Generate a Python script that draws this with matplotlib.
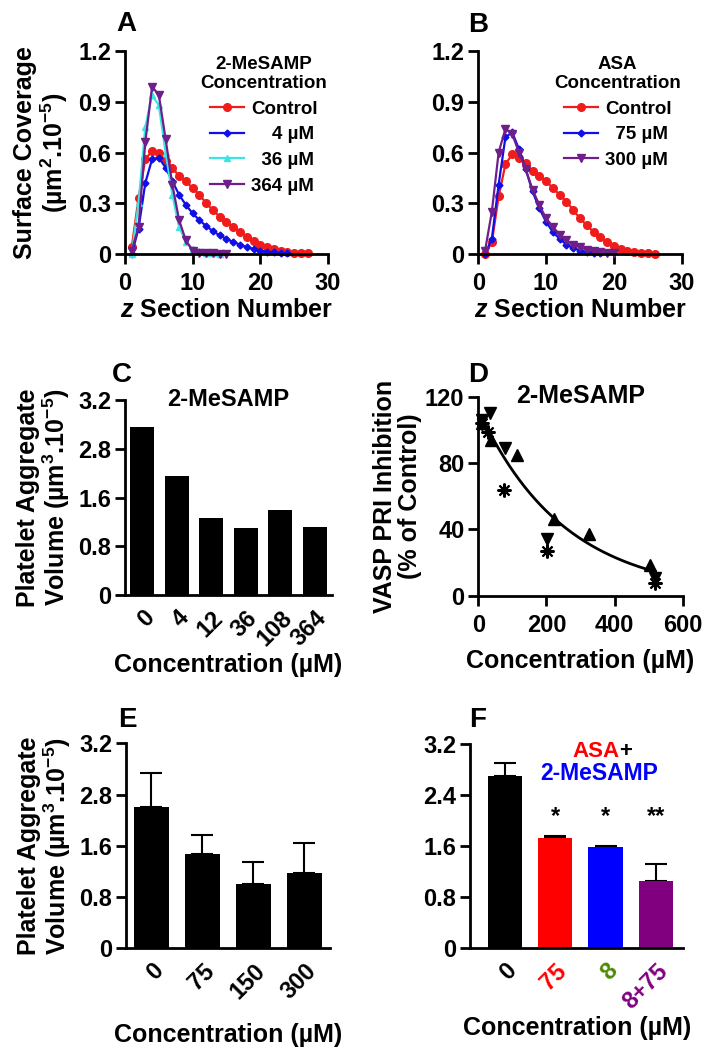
import numpy as np
import matplotlib
matplotlib.use("Agg")
import matplotlib.pyplot as plt

plt.rcParams['font.family'] = ['Liberation Sans', 'DejaVu Sans']
plt.rcParams['font.weight'] = 'bold'
plt.rcParams['axes.labelweight'] = 'bold'
plt.rcParams['axes.titleweight'] = 'bold'
plt.rcParams['mathtext.fontset'] = 'custom'
plt.rcParams['mathtext.rm'] = 'Liberation Sans:bold'
plt.rcParams['mathtext.bf'] = 'Liberation Sans:bold'
plt.rcParams['mathtext.it'] = 'Liberation Sans:italic:bold'

RED = '#f01c1c'
BLUE = '#1010e6'
CYAN = '#3fe3e3'
PURPLE = '#6e1f8a'
GREEN = '#4a8a00'

# ---- panel A: 2-MeSAMP z profiles ----
a_ctrl = [0.04, 0.33, 0.56, 0.61, 0.60, 0.55, 0.51, 0.46, 0.43, 0.39, 0.35, 0.30, 0.26,
          0.22, 0.19, 0.16, 0.13, 0.10, 0.075, 0.055, 0.04, 0.03, 0.02, 0.013, 0.008, 0.005, 0.003]
a_4 = [0.0, 0.15, 0.42, 0.56, 0.57, 0.51, 0.43, 0.35, 0.29, 0.24, 0.20, 0.165, 0.135, 0.11,
       0.09, 0.07, 0.055, 0.04, 0.03, 0.02, 0.014, 0.009, 0.005, 0.003]
a_36 = [0.0, 0.30, 0.75, 0.94, 0.88, 0.60, 0.35, 0.16, 0.07, 0.03, 0.015, 0.008, 0.004, 0.002]
a_364 = [0.02, 0.16, 0.66, 0.99, 0.94, 0.68, 0.41, 0.20, 0.08, 0.02, 0.006, 0.004, 0.003, 0.002, 0.001]

# ---- panel B: ASA z profiles ----
b_ctrl = [0.0, 0.07, 0.34, 0.53, 0.59, 0.57, 0.54, 0.49, 0.46, 0.43, 0.39, 0.35, 0.31,
          0.26, 0.21, 0.17, 0.13, 0.10, 0.07, 0.05, 0.03, 0.02, 0.01, 0.007, 0.004, 0.002]
b_75 = [0.0, 0.09, 0.41, 0.69, 0.72, 0.62, 0.50, 0.37, 0.27, 0.19, 0.13, 0.09, 0.055,
        0.035, 0.02, 0.012, 0.006, 0.003]
b_300 = [0.02, 0.25, 0.60, 0.74, 0.71, 0.60, 0.50, 0.38, 0.29, 0.21, 0.16, 0.115, 0.08,
         0.055, 0.04, 0.025, 0.015, 0.01, 0.006, 0.004]

# ---- panel C ----
c_labels = ['0', '4', '12', '36', '108', '364']
c_vals = [2.76, 1.96, 1.27, 1.10, 1.40, 1.12]

# ---- panel D ----
d_down_x = [10, 34, 78, 203, 520]
d_down_y = [106, 110, 89, 34, 10.5]
d_up_x = [10, 36, 113, 221, 324, 505]
d_up_y = [104, 94, 85, 46, 37, 18.5]
d_ast_x = [12, 29, 74, 203, 520]
d_ast_y = [104, 99, 64, 27, 7.5]

# ---- panel E ----
e_labels = ['0', '75', '150', '300']
e_vals = [2.20, 1.47, 1.01, 1.18]
e_err = [0.53, 0.30, 0.33, 0.47]

# ---- panel F ----
f_labels = ['0', '75', '8', '8+75']
f_vals = [2.70, 1.72, 1.59, 1.06]
f_err = [0.20, 0.04, 0.02, 0.26]
f_colors = ['black', '#ff0000', '#0000ff', '#800080']
f_label_colors = ['black', '#ff0000', GREEN, '#800080']
f_stars = ['', '*', '*', '**']

fig = plt.figure(figsize=(7.09, 10.5), dpi=100)


def style(ax):
    for s in ['top', 'right']:
        ax.spines[s].set_visible(False)
    for s in ['left', 'bottom']:
        ax.spines[s].set_linewidth(2)
    ax.tick_params(width=2, length=7, labelsize=17)
    ax.tick_params(axis='y', pad=3)
    ax.tick_params(axis='x', pad=6)


def letter(ax, txt, x, y):
    fig.text(x / 709, 1 - y / 1050, txt, fontsize=20, ha='center', va='center')


YL = 'Surface Coverage\n(µm$^{2}$.10$^{-5}$)'
VL = 'Platelet Aggregate\nVolume (µm$^{3}$.10$^{-5}$)'


def profile(ax, series, title):
    for vals, color, marker, ms, lab in series:
        z = np.arange(1, len(vals) + 1)
        ax.plot(z, vals, color=color, marker=marker, ms=ms, lw=1.6, label=lab, clip_on=False)
    ax.set_xlim(0, 30)
    ax.set_ylim(0, 1.2)
    ax.set_xticks([0, 10, 20, 30])
    ax.set_yticks([0, 0.3, 0.6, 0.9, 1.2])
    ax.set_yticklabels(['0', '0.3', '0.6', '0.9', '1.2'])
    ax.set_xlabel(r'$z$ Section Number', fontsize=18, labelpad=2)
    leg = ax.legend(title=title, loc='upper right', bbox_to_anchor=(1.08, 1.06), frameon=False,
                    fontsize=13.5, title_fontproperties={'weight': 'bold', 'size': 13.5},
                    handlelength=1.8, labelspacing=0.45, handletextpad=0.4, alignment='center')
    leg.get_title().set_multialignment('center')
    style(ax)


axA = fig.add_axes([0.1763, 0.7581, 0.2863, 0.1933])
profile(axA, [(a_ctrl, RED, 'o', 5.5, 'Control'), (a_4, BLUE, 'D', 3.5, '    4 µM'),
              (a_36, CYAN, '^', 5, '  36 µM'), (a_364, PURPLE, 'v', 6, '364 µM')],
        '2-MeSAMP\nConcentration')
axA.set_ylabel(YL, fontsize=18, linespacing=1.05, labelpad=6)
letter(axA, 'A', 126, 24)

axB = fig.add_axes([0.6746, 0.7581, 0.2869, 0.1933])
profile(axB, [(b_ctrl, RED, 'o', 5.5, 'Control'), (b_75, BLUE, 'D', 3.5, '  75 µM'),
              (b_300, PURPLE, 'v', 6, '300 µM')],
        'ASA\nConcentration')
letter(axB, 'B', 478, 25)


def bars(ax, labels, vals, colors='black', err=None, width=0.7):
    x = np.arange(len(vals))
    ax.bar(x, vals, width=width, color=colors, edgecolor='none', zorder=2)
    if err is not None:
        ax.errorbar(x, vals, yerr=[np.zeros(len(err)), err], fmt='none', ecolor='black',
                    elinewidth=1.5, capsize=8, capthick=1.5, zorder=1)
    ax.set_xticks(x)
    ax.set_xticklabels(labels, rotation=45, ha='right', rotation_mode='anchor')
    ax.set_ylim(0, 3.2)
    ax.set_yticks([0, 0.8, 1.6, 2.4, 3.2])
    style(ax)
    ax.tick_params(axis='x', length=0, pad=8)


# ---- C ----
axC = fig.add_axes([0.1763, 0.4333, 0.292, 0.1857])
bars(axC, c_labels, c_vals, width=0.7)
axC.set_xlim(-0.5, 5.5)
axC.set_yticklabels(['0', '0.8', '1.6', '2.8', '3.2'])
axC.set_ylabel(VL, fontsize=18, linespacing=1.05, labelpad=4)
axC.set_xlabel('Concentration (µM)', fontsize=18, labelpad=2)
axC.set_title('2-MeSAMP', fontsize=17, pad=0, y=0.97)
letter(axC, 'C', 122, 375)

# ---- D ----
axD = fig.add_axes([0.6746, 0.4327, 0.2883, 0.1895])
allx = np.array(d_down_x + d_up_x + d_ast_x, dtype=float)
ally = np.array(d_down_y + d_up_y + d_ast_y, dtype=float)
k, b0 = np.polyfit(allx, np.log(ally), 1, w=ally)
xf = np.linspace(min(allx), max(allx), 200)
axD.plot(xf, np.exp(b0 + k * xf), color='black', lw=2)
axD.plot(d_down_x, d_down_y, 'v', color='black', ms=9, clip_on=False)
axD.plot(d_up_x, d_up_y, '^', color='black', ms=8, clip_on=False)
axD.plot(d_ast_x, d_ast_y, marker=(8, 2, 0), ls='none', color='black', ms=10, mew=1.5,
         clip_on=False)
axD.set_xlim(0, 600)
axD.set_ylim(0, 120)
axD.set_xticks([0, 200, 400, 600])
axD.set_yticks([0, 40, 80, 120])
style(axD)
axD.set_ylabel('VASP PRI Inhibition\n(% of Control)', fontsize=18, linespacing=1.05, labelpad=2)
axD.set_xlabel('Concentration (µM)', fontsize=18, labelpad=9)
axD.set_title('2-MeSAMP', fontsize=18, pad=0, y=0.97)
letter(axD, 'D', 478, 375)

# ---- E ----
axE = fig.add_axes([0.1777, 0.0969, 0.2877, 0.1952])
bars(axE, e_labels, e_vals, err=e_err, width=0.68)
axE.set_xlim(-0.5, 3.5)
axE.set_yticklabels(['0', '0.8', '1.6', '2.8', '3.2'])
axE.set_ylabel(VL, fontsize=18, linespacing=1.05, labelpad=4)
axE.set_xlabel('Concentration (µM)', fontsize=18, labelpad=14)
letter(axE, 'E', 127, 720)

# ---- F ----
axF = fig.add_axes([0.6629, 0.0969, 0.3009, 0.1945])
bars(axF, f_labels, f_vals, colors=f_colors, err=f_err, width=0.68)
axF.set_xlim(-0.7, 3.55)
axF.set_yticklabels(['0', '0.8', '1.6', '2.4', '3.2'])
for lab, c in zip(axF.get_xticklabels(), f_label_colors):
    lab.set_color(c)
for i, s in enumerate(f_stars):
    if s:
        axF.text(i, 2.06, s, ha='center', va='center', fontsize=17)
axF.text(0.703, 0.965, 'ASA', color='#ff0000', transform=axF.transAxes, ha='right',
         va='center', fontsize=16)
axF.text(0.698, 0.965, '+', color='black', transform=axF.transAxes, ha='left',
         va='center', fontsize=16)
axF.text(0.605, 0.855, '2-MeSAMP', color='#0000ff', transform=axF.transAxes, ha='center',
         va='center', fontsize=16.5)
axF.set_xlabel('Concentration (µM)', fontsize=18, labelpad=2)
letter(axF, 'F', 478, 720)

fig.savefig('out.png', dpi=100)
